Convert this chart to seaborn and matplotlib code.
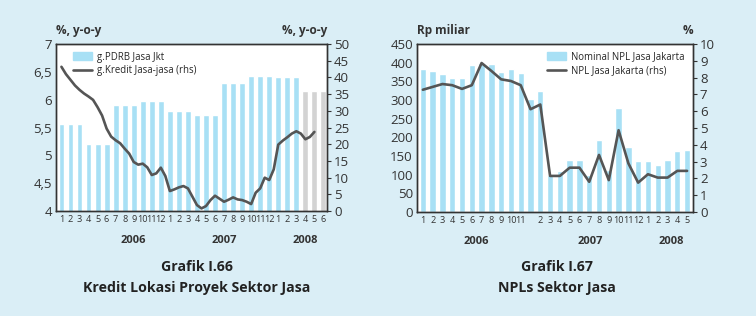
"""
Grafik I.66 / I.67 - kredit dan NPL sektor jasa (Jakarta).
"""
import numpy as np
import seaborn as sns
import matplotlib.pyplot as plt
from matplotlib.patches import Patch
from matplotlib.lines import Line2D
from matplotlib.transforms import blended_transform_factory

sns.set_theme(style='white')
plt.rcParams['font.family'] = ['Open Sans', 'DejaVu Sans']

BG = '#daeef6'
BAR = '#a8e0f5'
BAR_GREY = '#d3d3d3'
LINE = '#555555'
TXT = '#333333'

# --- Grafik I.66 data (Jan 2006 - Jun 2008) ---
pdrb_labels = [str(m) for m in range(1, 13)] * 2 + [str(m) for m in range(1, 7)]
pdrb_growth = [5.57, 5.57, 5.57, 5.20, 5.20, 5.20, 5.90, 5.90, 5.90,
               5.97, 5.97, 5.97, 5.79, 5.79, 5.79, 5.72, 5.72, 5.72,
               6.30, 6.30, 6.30, 6.42, 6.42, 6.42, 6.40, 6.40, 6.40,
               6.15, 6.15, 6.15]
pdrb_is_estimate = [False] * 27 + [True] * 3
# kredit growth, half-month readings from Jan 2006 to May 2008
kredit_growth = [43.2, 41.0, 39.3, 37.6, 36.3, 35.2, 34.3, 33.3, 31.1, 28.6,
                 24.7, 22.3, 21.2, 20.3, 18.7, 17.2, 14.7, 13.9, 14.2, 13.1,
                 10.8, 11.3, 13.0, 10.5, 6.0, 6.5, 7.1, 7.5, 6.8, 4.3,
                 1.8, 0.8, 1.5, 3.3, 4.6, 3.7, 2.8, 3.4, 4.1, 3.5,
                 3.3, 2.8, 2.1, 5.5, 6.8, 10.0, 9.3, 12.5, 19.9, 21.1,
                 22.1, 23.2, 23.9, 23.2, 21.5, 22.2, 23.7]

# --- Grafik I.67 data ---
npl_labels = ([str(m) for m in range(1, 12)] + [''] +
              [str(m) for m in range(2, 13)] + [str(m) for m in range(1, 6)])
npl_nominal = [383, 378, 371, 360, 360, 394, 400, 397, 376, 383, 372, 304,
               323, 100, 110, 140, 140, 100, 193, 112, 278, 175, 137, 137,
               126, 140, 164, 167]
npl_ratio = [7.28, 7.45, 7.62, 7.55, 7.33, 7.55, 8.87, 8.4, 7.9, 7.8, 7.55,
             6.12, 6.4, 2.15, 2.15, 2.64, 2.64, 1.8, 3.4, 1.9, 4.87, 2.9,
             1.75, 2.25, 2.05, 2.05, 2.45, 2.45]


def style_axes(ax, ax2):
    for a in (ax, ax2):
        a.set_facecolor('white')
        for s in a.spines.values():
            s.set_color(TXT)
            s.set_linewidth(1.0)
        a.set_xlabel('')
        a.set_ylabel('')
    ax.tick_params(axis='y', length=0, labelsize=9.5, labelcolor=TXT, pad=3)
    ax.tick_params(axis='x', length=0, labelsize=6.6, labelcolor=TXT, pad=3)
    ax2.tick_params(axis='y', length=3, width=0.8, color=TXT, labelsize=9.5,
                    labelcolor=TXT, pad=2, direction='out')
    ax2.set_zorder(ax.get_zorder() + 1)
    ax2.patch.set_visible(False)


def years(ax, spots):
    trans = blended_transform_factory(ax.transData, ax.transAxes)
    for x, yr in spots:
        ax.text(x, -0.175, yr, transform=trans, ha='center', va='center',
                fontsize=8, fontweight='bold', color=TXT)


fig = plt.figure(figsize=(7.56, 3.16), dpi=100)
fig.patch.set_facecolor(BG)

# ---------------- Grafik I.66 ----------------
ax = fig.add_axes([0.0741, 0.332, 0.3585, 0.5285])
n = len(pdrb_growth)
colors = [BAR_GREY if e else BAR for e in pdrb_is_estimate]
sns.barplot(x=list(range(n)), y=pdrb_growth, hue=list(range(n)),
            palette=colors, legend=False, width=0.65, ax=ax, saturation=1)
ax.set_ylim(4, 7)
ax.set_yticks(np.arange(4, 7.01, 0.5))
ax.set_yticklabels(['4', '4,5', '5', '5,5', '6', '6,5', '7'])
ax.set_xticks(range(n))
ax.set_xticklabels(pdrb_labels)
ax.set_xlim(-0.6, 29.4)

ax2 = ax.twinx()
t = np.arange(len(kredit_growth)) / 2
ax2.plot(t, kredit_growth, color=LINE, lw=1.9)
ax2.set_ylim(0, 50)
ax2.set_yticks(range(0, 51, 5))
style_axes(ax, ax2)
years(ax, [(8, '2006'), (18, '2007'), (27, '2008')])

ax.legend(handles=[Patch(color=BAR, label='g.PDRB Jasa Jkt'),
                   Line2D([], [], color=LINE, lw=1.9,
                          label='g.Kredit Jasa-jasa (rhs)')],
          loc='upper left', bbox_to_anchor=(0.04, 0.99), frameon=False,
          fontsize=6.9, handlelength=2.0, handleheight=0.9,
          labelspacing=0.3, handletextpad=0.5, borderaxespad=0.2)
ax2.text(0, 1.04, '%, y-o-y', transform=ax.transAxes, ha='left',
         va='bottom', fontsize=8.5, fontweight='bold', color=TXT)
ax2.text(1, 1.04, '%, y-o-y', transform=ax.transAxes, ha='right',
         va='bottom', fontsize=8.5, fontweight='bold', color=TXT)

# ---------------- Grafik I.67 ----------------
bx = fig.add_axes([0.5516, 0.329, 0.365, 0.5316])
m = len(npl_nominal)
sns.barplot(x=list(range(m)), y=npl_nominal, color=BAR, width=0.65,
            ax=bx, saturation=1)
bx.set_ylim(0, 450)
bx.set_yticks(range(0, 451, 50))
bx.set_xticks(range(m))
bx.set_xticklabels(npl_labels)
bx.set_xlim(-0.6, 27.6)

bx2 = bx.twinx()
bx2.plot(range(m), npl_ratio, color=LINE, lw=1.9)
bx2.set_ylim(0, 10)
bx2.set_yticks(range(0, 11))
style_axes(bx, bx2)
years(bx, [(5.5, '2006'), (17.1, '2007'), (25.4, '2008')])

bx2.legend(handles=[Patch(color=BAR, label='Nominal NPL Jasa Jakarta'),
                    Line2D([], [], color=LINE, lw=1.9,
                           label='NPL Jasa Jakarta (rhs)')],
           loc='upper right', bbox_to_anchor=(0.99, 0.99), frameon=False,
           fontsize=6.9, handlelength=2.0, handleheight=0.9,
           labelspacing=0.3, handletextpad=0.5, borderaxespad=0.2)
bx2.text(0, 1.04, 'Rp miliar', transform=bx.transAxes, ha='left',
         va='bottom', fontsize=8.5, fontweight='bold', color=TXT)
bx2.text(1, 1.04, '%', transform=bx.transAxes, ha='right',
         va='bottom', fontsize=8.5, fontweight='bold', color=TXT)

# captions
for xc, l1, l2 in [(197 / 756, 'Grafik I.66', 'Kredit Lokasi Proyek Sektor Jasa'),
                   (557 / 756, 'Grafik I.67', 'NPLs Sektor Jasa')]:
    fig.text(xc, 1 - 267 / 316, l1, ha='center', va='center', fontsize=10.2,
             fontweight='bold', color='#222222')
    fig.text(xc, 1 - 288 / 316, l2, ha='center', va='center', fontsize=10.2,
             fontweight='bold', color='#222222')

fig.savefig('out.png', dpi=100, facecolor=BG)
